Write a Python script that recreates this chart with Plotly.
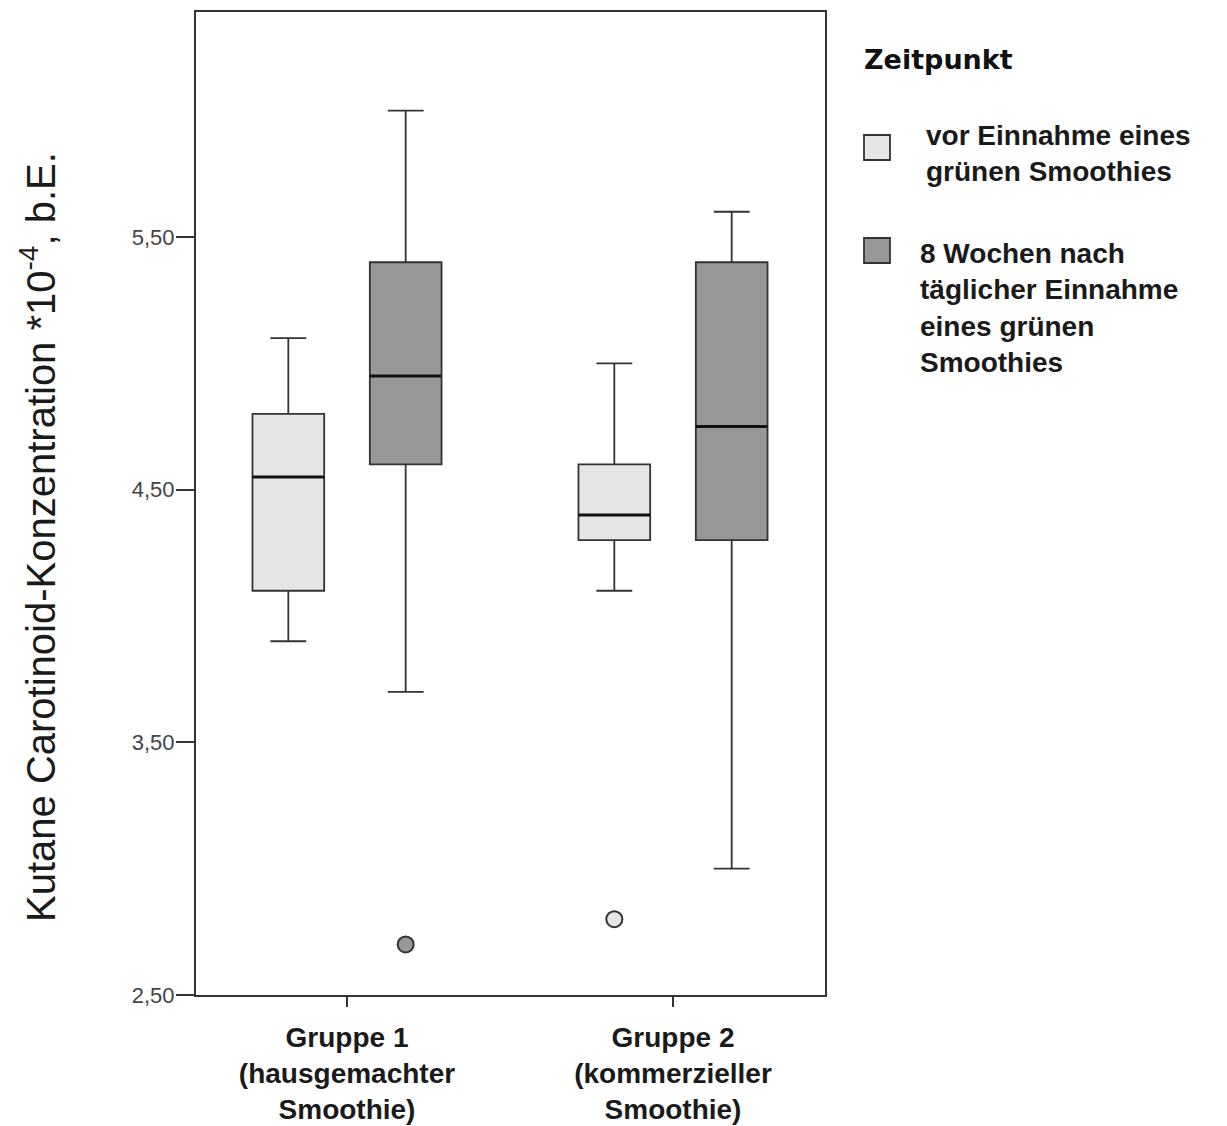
import plotly.graph_objects as go

# ---- data ----
groups = ["Gruppe 1<br>(hausgemachter<br>Smoothie)", "Gruppe 2<br>(kommerzieller<br>Smoothie)"]
series_names = ["vor Einnahme eines grünen Smoothies",
                "8 Wochen nach täglicher Einnahme eines grünen Smoothies"]
# per series: values for [Gruppe 1, Gruppe 2]
vor_lower = [3.90, 4.10]
vor_q1 = [4.10, 4.30]
vor_median = [4.55, 4.40]
vor_q3 = [4.80, 4.60]
vor_upper = [5.10, 5.00]
vor_outliers = [[], [2.80]]

nach_lower = [3.70, 3.00]
nach_q1 = [4.60, 4.30]
nach_median = [4.95, 4.75]
nach_q3 = [5.40, 5.40]
nach_upper = [6.00, 5.60]
nach_outliers = [[2.70], []]

y_ticks = [2.5, 3.5, 4.5, 5.5]

# ---- style ----
W, H = 1227, 1126
L, R, T, B = 196, 825, 12, 995
light = "#e5e5e5"
dark = "#979797"
edge = "#333333"
font_family = "Liberation Sans, Arial, sans-serif"
offset = 0.18
box_w = 0.22

fig = go.Figure()

series = [
    (vor_lower, vor_q1, vor_median, vor_q3, vor_upper, vor_outliers, light, -offset),
    (nach_lower, nach_q1, nach_median, nach_q3, nach_upper, nach_outliers, dark, offset),
]
for lo, q1, med, q3, up, outs, col, off in series:
    for gi in range(len(groups)):
        xpos = gi + 1 + off
        fig.add_trace(go.Box(
            x=[xpos], q1=[q1[gi]], median=[med[gi]], q3=[q3[gi]],
            lowerfence=[lo[gi]], upperfence=[up[gi]],
            width=box_w, whiskerwidth=0.5,
            fillcolor=col, line=dict(color=edge, width=1.8),
            boxpoints=False, showlegend=False, hoverinfo="skip",
        ))
        # thicker median line
        fig.add_trace(go.Scatter(
            x=[xpos - box_w / 2, xpos + box_w / 2], y=[med[gi], med[gi]],
            mode="lines", line=dict(color="#111111", width=3),
            showlegend=False, hoverinfo="skip",
        ))
        if outs[gi]:
            fig.add_trace(go.Scatter(
                x=[xpos] * len(outs[gi]), y=outs[gi], mode="markers",
                marker=dict(size=16, color=col, line=dict(color=edge, width=2)),
                showlegend=False, hoverinfo="skip",
            ))

# x range: tick 1 at px 347, tick 2 at px 673
px_per_unit = 673 - 347
x0 = 1 - (347 - L) / px_per_unit
x1 = 2 + (R - 673) / px_per_unit
y_top = 2.5 + (B - T) / ((B - 237) / 3.0)

fig.update_layout(
    width=W, height=H,
    margin=dict(l=L, r=W - R, t=T, b=H - B, pad=0, autoexpand=False),
    paper_bgcolor="white", plot_bgcolor="white",
    separators=",.",
    showlegend=False,
    font=dict(family=font_family, color="#222222"),
    xaxis=dict(
        range=[x0, x1], tickmode="array", tickvals=[1, 2],
        ticktext=["<b>" + g.replace("<br>", "</b><br><b>") + "</b>" for g in groups],
        showgrid=False, zeroline=False, showline=True, mirror=True, automargin=False,
        linecolor=edge, linewidth=2, ticks="outside", ticklen=10, tickwidth=2, tickcolor=edge,
        ticklabelstandoff=6,
        tickfont=dict(size=28, color="#1a1a1a", family=font_family),
    ),
    yaxis=dict(
        range=[2.5, y_top], tickmode="array", tickvals=y_ticks, tickformat=".2f",
        showgrid=False, zeroline=False, showline=True, mirror=True, automargin=False,
        linecolor=edge, linewidth=2, ticks="outside", ticklen=18, tickwidth=2, tickcolor=edge,
        ticklabelstandoff=-3,
        tickfont=dict(size=22, color="#444444", family=font_family),
    ),
)

def px_x(px):
    return (px - L) / (R - L)

def px_y(py):
    return (B - py) / (B - T)

# y axis title
fig.add_annotation(
    text="Kutane Carotinoid-Konzentration *10<sup>-4</sup>, b.E.",
    xref="paper", yref="paper", x=px_x(38), y=px_y(537), textangle=-90,
    showarrow=False, xanchor="center", yanchor="middle",
    font=dict(size=40, color="#1a1a1a", family=font_family),
)

# custom legend
fig.add_annotation(
    text="<b>Zeitpunkt</b>", xref="paper", yref="paper",
    x=px_x(862), y=px_y(60), xanchor="left", yanchor="middle", showarrow=False,
    font=dict(size=27, color="#111111", family="DejaVu Sans, sans-serif"),
)
legend_items = [
    (light, 135, 924, 154, ["vor Einnahme eines", "grünen Smoothies"]),
    (dark, 238, 918, 308, ["8 Wochen nach", "täglicher Einnahme", "eines grünen", "Smoothies"]),
]
for col, sq_top, tx, ty, lines in legend_items:
    fig.add_shape(type="rect", xref="paper", yref="paper",
                  x0=px_x(864), x1=px_x(890), y0=px_y(sq_top + 25), y1=px_y(sq_top),
                  fillcolor=col, line=dict(color=edge, width=1.8))
    fig.add_annotation(
        text="<br>".join("<b>" + s + "</b>" for s in lines), xref="paper", yref="paper",
        x=px_x(tx), y=px_y(ty), xanchor="left", yanchor="middle", align="left", showarrow=False,
        font=dict(size=28, color="#1a1a1a", family=font_family),
    )

fig.write_html("out.html")
